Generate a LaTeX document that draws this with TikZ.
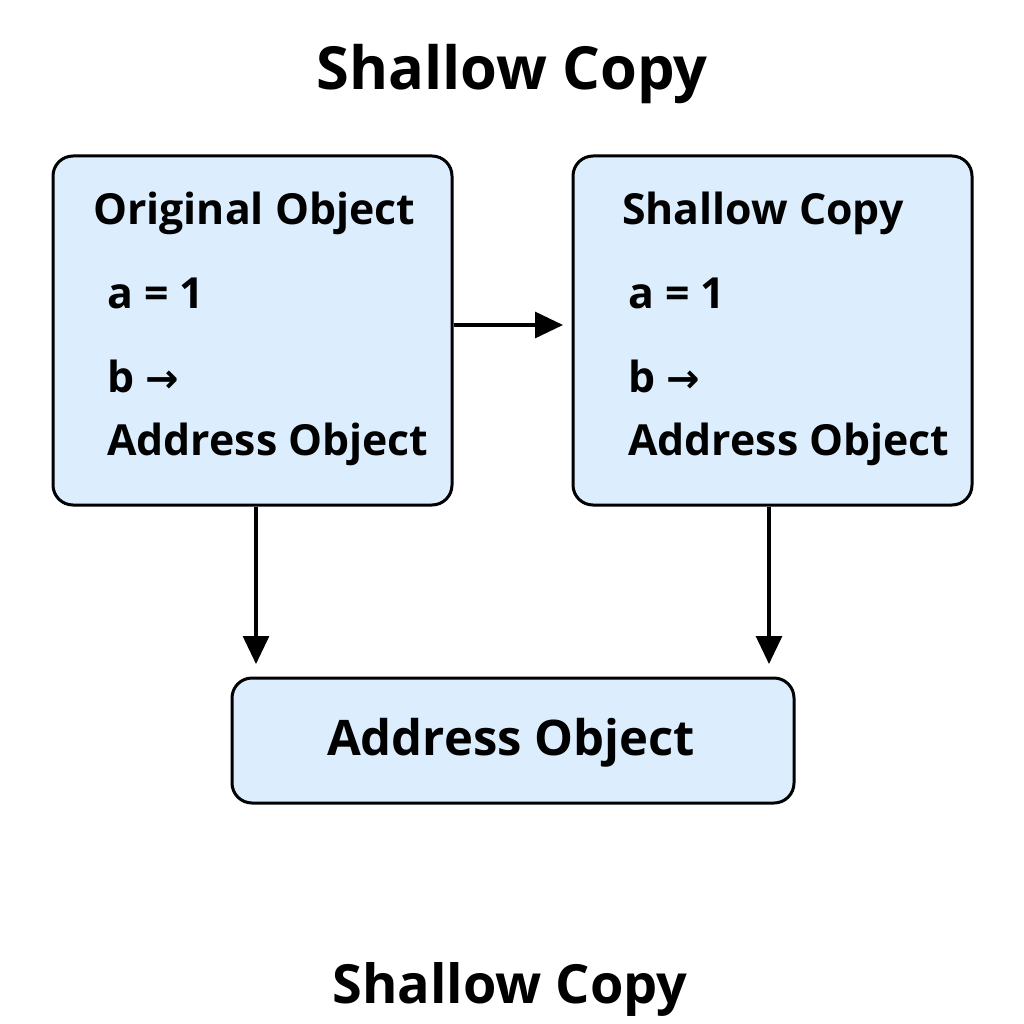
\documentclass[tikz,border=0pt]{standalone}
\usepackage{fontspec}
\setmainfont{Open Sans}
\newfontfamily\arrfont{DejaVu Sans}
\usetikzlibrary{arrows.meta}
\definecolor{boxfill}{HTML}{DCEEFD}
\begin{document}
\begin{tikzpicture}[x=1pt,y=-1pt,
  box/.style={draw=black, line width=3pt, fill=boxfill, rounded corners=20pt, inner sep=0pt},
  lbl/.style={anchor=base west, inner sep=0pt, font=\fontsize{42.8}{50}\selectfont\bfseries},
  ttl/.style={anchor=base, inner sep=0pt},
  arr/.style={line width=3.2pt, -{Triangle[length=28pt,width=26pt]}}]
\useasboundingbox[fill=white] (0,0) rectangle (1024,1024);
\node[ttl, font=\fontsize{59.5}{66}\selectfont\bfseries] (t1) at (512,90) {Shallow Copy};
\node[box, minimum width=399pt, minimum height=349pt] (L) at (252.5,330.5) {};
\node[box, minimum width=399pt, minimum height=349pt] (R) at (772.5,330.5) {};
\node[box, minimum width=562pt, minimum height=125pt] (B) at (513,740.5) {};
\node[lbl] (l1) at (93,225) {Original Object};
\node[lbl] (l2) at (107,308) {a = 1};
\node[lbl] (l3) at (107,392) {b {\arrfont\fontsize{40}{40}\selectfont →}};
\node[lbl] (l4) at (107,455) {Address Object};
\node[lbl] (r1) at (622,225) {Shallow Copy};
\node[lbl] (r2) at (628,308) {a = 1};
\node[lbl] (r3) at (628,392) {b {\arrfont\fontsize{40}{40}\selectfont →}};
\node[lbl] (r4) at (628,455) {Address Object};
\node[ttl, font=\fontsize{49}{56}\selectfont\bfseries] (bt) at (511,755) {Address Object};
\node[ttl, font=\fontsize{54}{60}\selectfont\bfseries] (t2) at (510,1003) {Shallow Copy};
\coordinate (hend) at (563,325);
\coordinate (lend) at (256,664);
\coordinate (rend) at (769,664);
\draw[arr] (L.east |- hend) -- (hend);
\draw[arr] (L.south -| lend) -- (lend);
\draw[arr] (R.south -| rend) -- (rend);
\end{tikzpicture}
\end{document}
